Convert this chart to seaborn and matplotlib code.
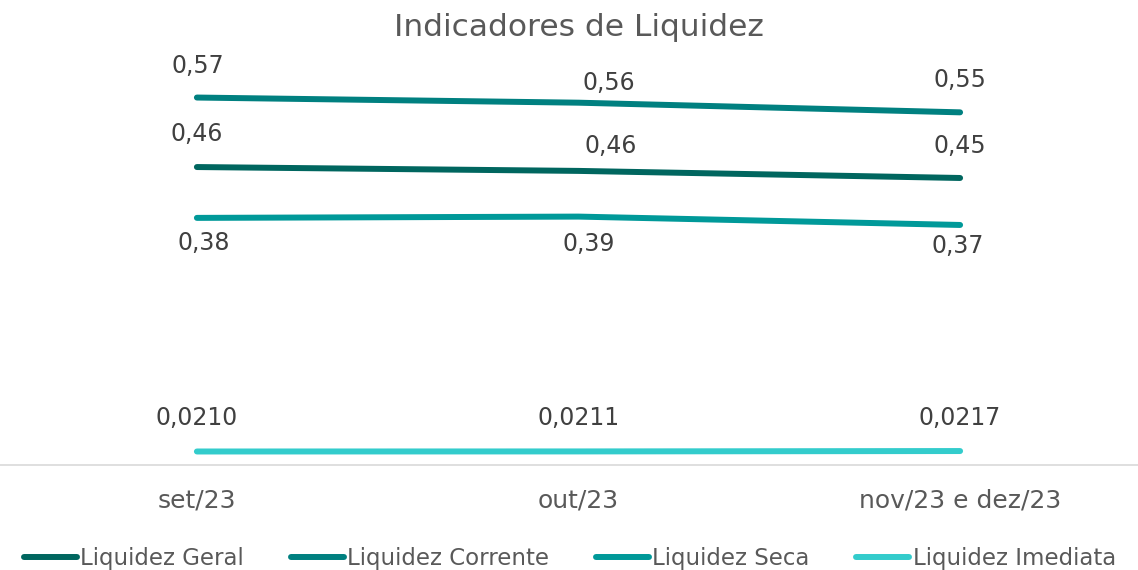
import matplotlib
matplotlib.use("Agg")
import matplotlib.pyplot as plt
import seaborn as sns
import pandas as pd

categories = ["set/23", "out/23", "nov/23 e dez/23"]
series_names = ["Liquidez Geral", "Liquidez Corrente", "Liquidez Seca", "Liquidez Imediata"]
liq_geral = [0.463, 0.457, 0.446]
liq_corrente = [0.571, 0.563, 0.548]
liq_seca = [0.384, 0.386, 0.373]
liq_imediata = [0.0210, 0.0211, 0.0217]
colors = ["#00665F", "#008080", "#009999", "#33CCCC"]

values = [liq_geral, liq_corrente, liq_seca, liq_imediata]
df = pd.DataFrame({
    "cat": categories * 4,
    "serie": [s for s in series_names for _ in categories],
    "valor": [v for vals in values for v in vals],
})

sns.set_theme(style="white")
plt.rcParams["font.family"] = ["DejaVu Sans"]

fig = plt.figure(figsize=(11.38, 5.70), dpi=100)
ax = fig.add_axes([0.0, 0.1842, 1.0, 0.70])

sns.lineplot(data=df, x="cat", y="valor", hue="serie", palette=colors,
             hue_order=series_names, linewidth=4.3, sort=False, ax=ax,
             solid_capstyle="round", legend=True)

ax.set_xlim(-0.495 - 8 / 381.5, 2.44 + 10 / 381.5)
ax.set_ylim(0, 0.62)

# Data labels (offsets in points)
offsets = {
    "Liquidez Geral": [(0, 23.5), (23.5, 18), (0, 23)],
    "Liquidez Corrente": [(0.5, 23), (22, 14.5), (0, 23)],
    "Liquidez Seca": [(5, -18), (7, -19.5), (-2, -15)],
    "Liquidez Imediata": [(0, 24), (0, 24), (0, 24)],
}
for name, vals in zip(series_names, values):
    for i, v in enumerate(vals):
        txt = f"{v:.4f}" if name == "Liquidez Imediata" else f"{v:.2f}"
        txt = txt.replace(".", ",")
        dx, dy = offsets[name][i]
        ax.annotate(txt, (i, v), xytext=(dx, dy), textcoords="offset points",
                    ha="center", va="center", fontsize=17, color="#404040")

for s in ["top", "left", "right"]:
    ax.spines[s].set_visible(False)
ax.spines["bottom"].set_color("#D9D9D9")
ax.spines["bottom"].set_linewidth(1.2)
ax.set_yticks([])
ax.set_xlabel("")
ax.set_ylabel("")
ax.tick_params(axis="x", length=0, pad=17, labelsize=18, labelcolor="#595959")

fig.text(0.509, 0.951, "Indicadores de Liquidez", ha="center", va="center",
         fontsize=22.5, color="#595959")

handles, labels = ax.get_legend_handles_labels()
ax.get_legend().remove()
for h in handles:
    h.set_linewidth(4.3)
    h.set_solid_capstyle("round")
leg = fig.legend(handles, labels, loc="center left", bbox_to_anchor=(0.013, 0.021),
                 ncol=4, frameon=False, fontsize=16.5, handlelength=2.3,
                 handletextpad=0.15, columnspacing=2.05, borderaxespad=0)
for t in leg.get_texts():
    t.set_color("#595959")

fig.savefig("out.png", dpi=100)
